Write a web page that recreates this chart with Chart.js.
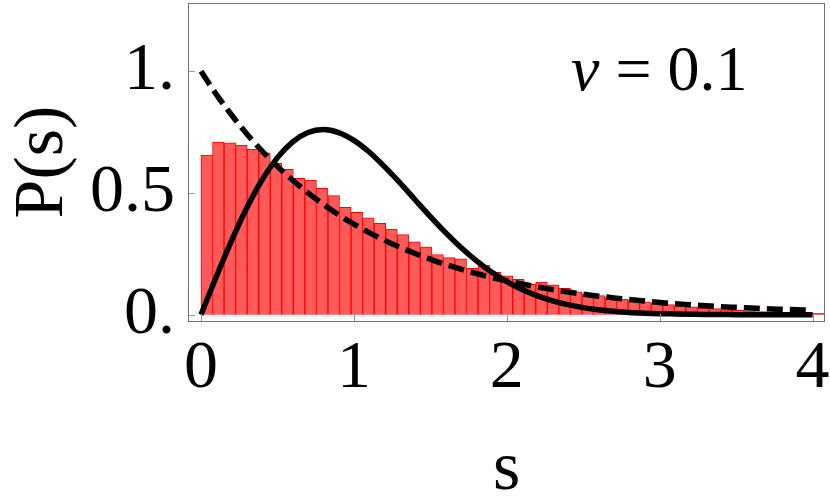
<!DOCTYPE html>
<html>
<head>
<meta charset="utf-8">
<script src="https://cdn.jsdelivr.net/npm/chart.js@4.4.1/dist/chart.umd.min.js"></script>
<style>
  html, body { margin: 0; padding: 0; background: #fff; }
  #wrap { position: relative; width: 830px; height: 501px; }
  #nuLabel {
    position: absolute; left: 571px; top: 37px;
    font: 64px 'Liberation Serif', 'Times New Roman', serif;
    line-height: 1; white-space: pre; color: #000;
  }
</style>
</head>
<body>
<div id="wrap">
  <canvas id="chart"></canvas>
  <div id="nuLabel"><i>ν</i> = 0.1</div>
</div>
<script>
// Level spacing distribution, nu = 0.1
const BIN_WIDTH = 0.0755;
const HIST = [
  0.655, 0.709, 0.706, 0.696, 0.679, 0.665, 0.622, 0.597, 0.560, 0.553,
  0.519, 0.489, 0.441, 0.420, 0.398, 0.375, 0.352, 0.329, 0.299, 0.279,
  0.247, 0.234, 0.229, 0.190, 0.203, 0.174, 0.160, 0.145, 0.125, 0.133,
  0.123, 0.108, 0.094, 0.086, 0.078, 0.071, 0.063, 0.058, 0.053, 0.048,
  0.041, 0.036, 0.032, 0.027, 0.025, 0.020, 0.018, 0.016, 0.013, 0.012,
  0.010, 0.009, 0.008, 0.006, 0.005
];

const CURVE_S = [
  0.0, 0.1, 0.2, 0.3, 0.4, 0.5, 0.6, 0.7, 0.8, 0.9,
  1.0, 1.1, 1.2, 1.3, 1.4, 1.5, 1.6, 1.7, 1.8, 1.9,
  2.0, 2.1, 2.2, 2.3, 2.4, 2.5, 2.6, 2.7, 2.8, 2.9,
  3.0, 3.1, 3.2, 3.3, 3.4, 3.5, 3.6, 3.7, 3.8, 3.9, 4.0
];
// dashed curve
const POISSON = [
  1.000, 0.905, 0.820, 0.742, 0.672, 0.609, 0.552, 0.500, 0.453, 0.410,
  0.372, 0.337, 0.305, 0.277, 0.251, 0.228, 0.206, 0.187, 0.169, 0.153,
  0.139, 0.126, 0.114, 0.103, 0.093, 0.084, 0.076, 0.069, 0.062, 0.056,
  0.050, 0.045, 0.041, 0.037, 0.033, 0.030, 0.027, 0.024, 0.022, 0.020, 0.018
];
// solid curve
const WIGNER = [
  0.000, 0.156, 0.304, 0.439, 0.554, 0.645, 0.710, 0.748, 0.760, 0.748,
  0.716, 0.668, 0.608, 0.542, 0.472, 0.403, 0.337, 0.276, 0.222, 0.175,
  0.136, 0.103, 0.077, 0.057, 0.041, 0.029, 0.020, 0.014, 0.009, 0.006,
  0.004, 0.003, 0.002, 0.001, 0.001, 0.000, 0.000, 0.000, 0.000, 0.000, 0.000
];

const X_TICKS = [0, 1, 2, 3, 4];
const X_LABELS = ['0', '1', '2', '3', '4'];
const Y_TICKS = [0, 0.5, 1];
const Y_LABELS = ['0.', '0.5', '1.'];

const SERIF = "'Liberation Serif', 'Times New Roman', serif";

// ── frame + inward tick marks ────────────────────────────────────
const framePlugin = {
  id: 'frame',
  afterDatasetsDraw(chart) {
    const { ctx, chartArea: a, scales } = chart;
    ctx.save();
    ctx.strokeStyle = '#9a9a9a';
    ctx.lineWidth = 1;
    ctx.beginPath();
    X_TICKS.forEach(v => {
      const px = Math.round(scales.x.getPixelForValue(v)) + 0.5;
      ctx.moveTo(px, a.bottom);
      ctx.lineTo(px, a.bottom - 7);
    });
    Y_TICKS.forEach(v => {
      const py = Math.round(scales.y.getPixelForValue(v)) + 0.5;
      ctx.moveTo(a.left, py);
      ctx.lineTo(a.left + 7, py);
    });
    ctx.stroke();
    ctx.strokeStyle = '#707070';
    ctx.strokeRect(Math.round(a.left) + 0.5, Math.round(a.top) + 0.5,
      Math.round(a.right - a.left) - 1, Math.round(a.bottom - a.top));
    ctx.restore();
  }
};

const ctx = document.getElementById('chart').getContext('2d');
new Chart(ctx, {
  type: 'bar',
  data: {
    datasets: [
      {
        type: 'line',
        label: 'Wigner',
        data: CURVE_S.map((s, i) => ({ x: s, y: WIGNER[i] })),
        borderColor: '#000',
        borderWidth: 5.5,
        pointRadius: 0,
        cubicInterpolationMode: 'monotone',
        fill: false,
        order: 1,
      },
      {
        type: 'line',
        label: 'Poisson',
        data: CURVE_S.map((s, i) => ({ x: s, y: POISSON[i] })),
        borderColor: '#000',
        borderWidth: 5.5,
        borderDash: [16, 7],
        pointRadius: 0,
        cubicInterpolationMode: 'monotone',
        fill: false,
        order: 0,
      },
      {
        type: 'bar',
        label: 'histogram',
        data: HIST.map((v, i) => ({ x: (i + 0.5) * BIN_WIDTH, y: v })),
        backgroundColor: '#ff5a5a',
        borderColor: '#ff0000',
        borderWidth: 1,
        categoryPercentage: 1,
        barPercentage: 1,
        order: 2,
      }
    ]
  },
  options: {
    responsive: true,
    maintainAspectRatio: false,
    animation: false,
    layout: { padding: { top: 3, right: 5, left: 0, bottom: 0 } },
    plugins: { legend: { display: false }, tooltip: { enabled: false } },
    scales: {
      x: {
        type: 'linear',
        offset: false,
        min: -0.085,
        max: 4.081,
        afterBuildTicks: s => { s.ticks = X_TICKS.map(v => ({ value: v })); },
        afterFit: s => {
          s.height = 180;
          s.paddingLeft = 0;
          s.paddingRight = 0;
        },
        grid: { display: false, drawTicks: false },
        border: { display: false },
        ticks: {
          padding: 7,
          color: '#000',
          font: { family: SERIF, size: 68 },
          maxRotation: 0,
          callback: (v, i) => X_LABELS[i],
        },
        title: {
          display: true,
          text: 's',
          color: '#000',
          font: { family: SERIF, size: 70, lineHeight: 0.85 },
          padding: { top: 0, bottom: 1 },
        }
      },
      y: {
        min: -0.026,
        max: 1.28,
        afterBuildTicks: s => { s.ticks = Y_TICKS.map(v => ({ value: v })); },
        afterFit: s => {
          s.width = 188;
          s.paddingTop = 0;
          s.paddingBottom = 0;
        },
        grid: { display: false, drawTicks: false },
        border: { display: false },
        ticks: {
          padding: 13,
          color: '#000',
          font: { family: SERIF, size: 68 },
          callback: (v, i) => Y_LABELS[i],
        },
        title: {
          display: true,
          text: 'P(s)',
          color: '#000',
          font: { family: SERIF, size: 70, lineHeight: 1.25 },
          padding: { top: 0, bottom: 0 },
        }
      }
    }
  },
  plugins: [framePlugin]
});
</script>
</body>
</html>
